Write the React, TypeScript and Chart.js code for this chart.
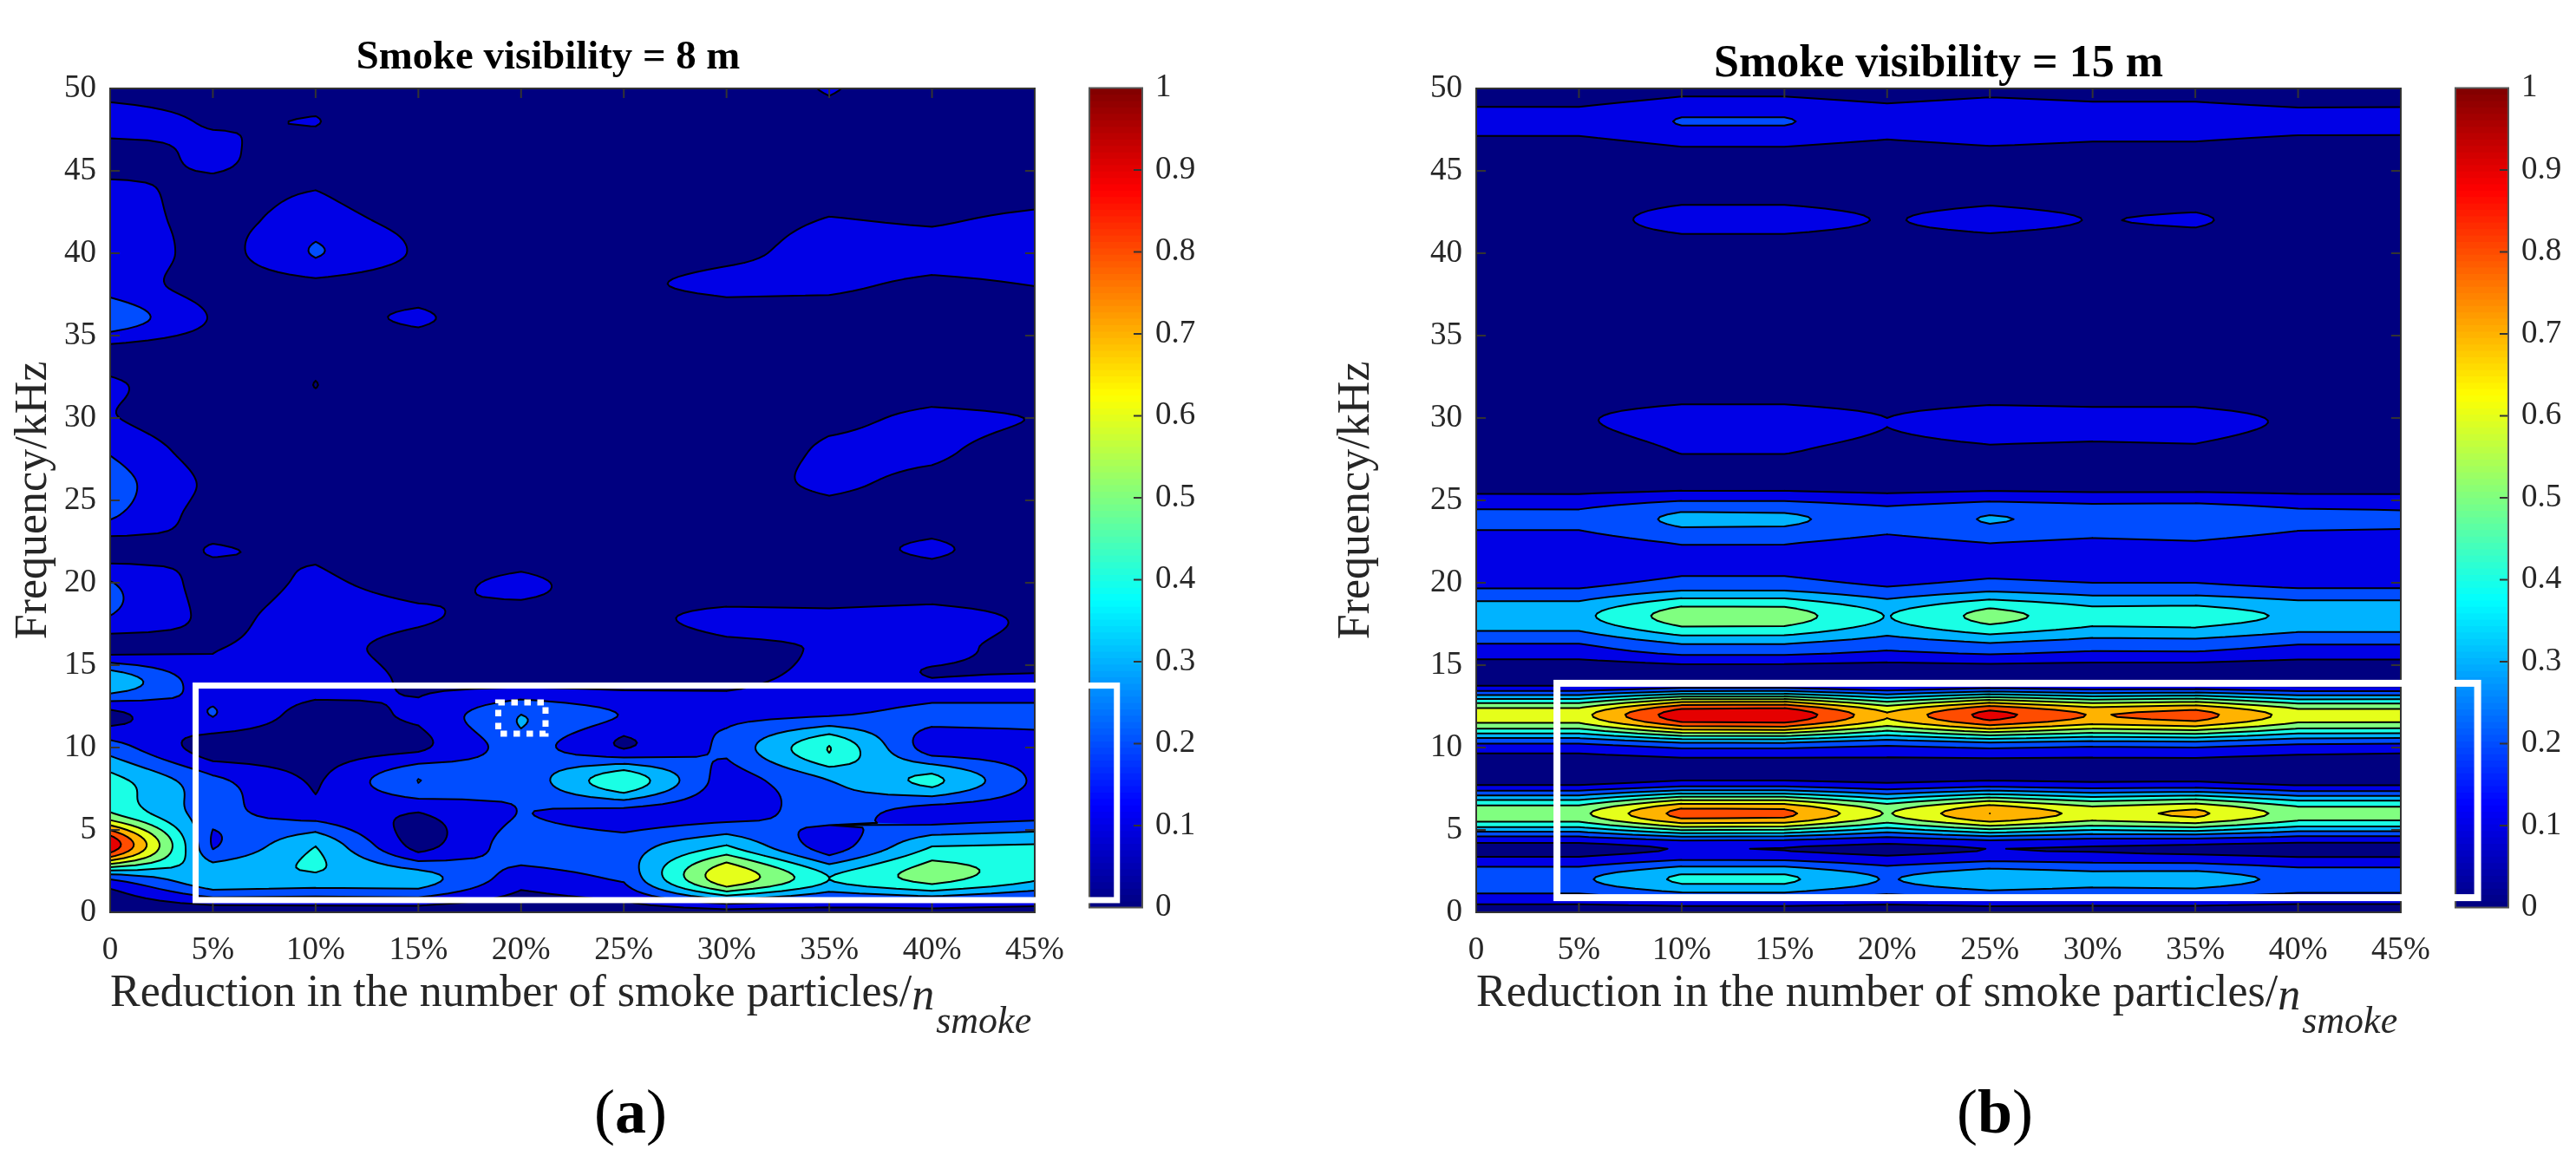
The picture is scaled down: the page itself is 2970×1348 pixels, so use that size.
import React, { useEffect, useRef } from "react";
import { Chart, registerables } from "chart.js";

Chart.register(...registerables);

const SERIF = "'Liberation Serif', 'Times New Roman', serif";
const INK = "#262626";

const reductionPercent = [0, 5, 10, 15, 20, 25, 30, 35, 40, 45];
const reductionTickLabels = ["0", "5%", "10%", "15%", "20%", "25%", "30%", "35%", "40%", "45%"];
const frequencyKHz = [0, 2, 4, 6, 8, 10, 12, 14, 16, 18, 20, 22, 24, 26, 28, 30, 32, 34, 36, 38, 40, 42, 44, 46, 48, 50];
const contourLevels = [0, 0.1, 0.2, 0.3, 0.4, 0.5, 0.6, 0.7, 0.8, 0.9];
const colorbarTickValues = [0, 0.1, 0.2, 0.3, 0.4, 0.5, 0.6, 0.7, 0.8, 0.9, 1];

// Rows follow frequencyKHz, columns follow reductionPercent.
const visibility8m = [
  [0.02, 0.04, 0.05, 0.05, 0.03, 0.05, 0.06, 0.06, 0.06, 0.05],
  [0.2, 0.38, 0.37, 0.35, 0.14, 0.21, 0.69, 0.4, 0.54, 0.41],
  [0.98, 0.19, 0.4, 0.06, 0.26, 0.25, 0.41, 0.14, 0.4, 0.41],
  [0.51, 0.23, 0.15, 0.095, 0.205, 0.16, 0.15, 0.25, 0.15, 0.16],
  [0.44, 0.222, 0.084, 0.302, 0.225, 0.49, 0.14, 0.3, 0.43, 0.18],
  [0.25, 0.04, 0.05, 0.08, 0.256, 0.092, 0.22, 0.505, 0.14, 0.15],
  [0.075, 0.205, 0.05, 0.116, 0.3, 0.194, 0.17, 0.19, 0.235, 0.23],
  [0.386, 0.12, 0.16, 0.08, 0.07, 0.07, 0.08, 0.13, 0.105, 0.115],
  [0.06, 0.097, 0.13, 0.07, 0.05, 0.06, 0.085, 0.105, 0.115, 0.082],
  [0.2, 0.073, 0.135, 0.11, 0.07, 0.08, 0.118, 0.115, 0.13, 0.086],
  [0.205, 0.057, 0.115, 0.069, 0.12, 0.05, 0.03, 0.03, 0.04, 0.03],
  [0.05, 0.105, 0.085, 0.04, 0.04, 0.03, 0.03, 0.067, 0.115, 0.047],
  [0.21, 0.05, 0.04, 0.03, 0.03, 0.03, 0.03, 0.06, 0.05, 0.04],
  [0.245, 0.073, 0.03, 0.03, 0.02, 0.02, 0.055, 0.12, 0.07, 0.03],
  [0.19, 0.04, 0.02, 0.02, 0.02, 0.02, 0.02, 0.12, 0.12, 0.045],
  [0.108, 0.02, 0.02, 0.02, 0.02, 0.02, 0.02, 0.07, 0.125, 0.097],
  [0.117, 0.02, -0.0005, 0.02, 0.02, 0.02, 0.02, 0.03, 0.04, 0.03],
  [0.06, 0.03, 0.02, 0.02, 0.02, 0.02, 0.02, 0.03, 0.03, 0.03],
  [0.27, 0.09, 0.063, 0.115, 0.027, 0.02, 0.04, 0.05, 0.04, 0.04],
  [0.16, 0.05, 0.07, 0.05, 0.03, 0.084, 0.12, 0.115, 0.08, 0.1],
  [0.19, 0.048, 0.21, 0.086, 0.02, 0.05, 0.08, 0.13, 0.13, 0.13],
  [0.144, 0.065, 0.14, 0.067, 0.02, 0.03, 0.06, 0.105, 0.09, 0.12],
  [0.12, 0.075, 0.095, 0.03, 0.02, 0.02, 0.03, 0.05, 0.04, 0.05],
  [0.04, 0.13, 0.02, 0.01, 0.01, 0.01, 0.01, 0.02, 0.02, 0.02],
  [0.16, 0.086, 0.105, 0.01, 0.01, 0.01, 0.02, 0.05, 0.02, 0.02],
  [0.05, 0.04, 0.02, 0.01, 0.01, 0.01, 0.025, 0.11, 0.025, 0.02],
];

const visibility15m = [
  [0.05, 0.05, 0.04, 0.04, 0.05, 0.05, 0.05, 0.05, 0.05, 0.05],
  [0.28, 0.28, 0.42, 0.42, 0.29, 0.38, 0.34, 0.35, 0.27, 0.27],
  [0.07, 0.07, 0.114, 0.105, 0.08, 0.11, 0.1, 0.085, 0.07, 0.07],
  [0.57, 0.57, 0.84, 0.83, 0.59, 0.8, 0.657, 0.724, 0.55, 0.55],
  [0.05, 0.05, 0.1, 0.1, 0.08, 0.1, 0.085, 0.09, 0.05, 0.05],
  [0.15, 0.15, 0.21, 0.21, 0.18, 0.21, 0.19, 0.2, 0.16, 0.15],
  [0.66, 0.66, 0.97, 0.99, 0.71, 0.94, 0.79, 0.845, 0.65, 0.65],
  [0.05, 0.05, 0.07, 0.07, 0.05, 0.07, 0.06, 0.06, 0.045, 0.045],
  [0.17, 0.17, 0.26, 0.26, 0.21, 0.25, 0.215, 0.22, 0.175, 0.175],
  [0.37, 0.37, 0.555, 0.55, 0.395, 0.536, 0.44, 0.45, 0.38, 0.38],
  [0.17, 0.17, 0.23, 0.23, 0.18, 0.22, 0.2, 0.2, 0.17, 0.17],
  [0.13, 0.13, 0.185, 0.185, 0.14, 0.18, 0.155, 0.17, 0.13, 0.13],
  [0.225, 0.225, 0.32, 0.315, 0.25, 0.305, 0.275, 0.285, 0.23, 0.22],
  [0.05, 0.05, 0.06, 0.06, 0.05, 0.06, 0.055, 0.055, 0.05, 0.05],
  [0.04, 0.05, 0.105, 0.105, 0.075, 0.09, 0.085, 0.09, 0.06, 0.04],
  [0.07, 0.09, 0.14, 0.14, 0.1, 0.135, 0.125, 0.125, 0.088, 0.07],
  [0.02, 0.03, 0.03, 0.03, 0.03, 0.03, 0.03, 0.03, 0.02, 0.02],
  [0.01, 0.01, 0.02, 0.02, 0.01, 0.02, 0.01, 0.01, 0.01, 0.01],
  [0.01, 0.01, 0.02, 0.02, 0.01, 0.01, 0.01, 0.01, 0.01, 0.01],
  [0.01, 0.01, 0.02, 0.02, 0.01, 0.01, 0.01, 0.01, 0.01, 0.01],
  [0.02, 0.02, 0.02, 0.02, 0.02, 0.02, 0.02, 0.02, 0.02, 0.02],
  [0.05, 0.055, 0.14, 0.14, 0.092, 0.135, 0.096, 0.11, 0.055, 0.05],
  [0.03, 0.03, 0.04, 0.04, 0.03, 0.04, 0.03, 0.03, 0.03, 0.03],
  [0.02, 0.02, 0.07, 0.07, 0.04, 0.07, 0.055, 0.055, 0.02, 0.02],
  [0.145, 0.145, 0.205, 0.205, 0.16, 0.19, 0.16, 0.16, 0.14, 0.14],
  [0.02, 0.02, 0.07, 0.07, 0.04, 0.07, 0.055, 0.055, 0.02, 0.025],
];

const clamp01 = (v: number) => Math.max(0, Math.min(1, v));
function jet(t: number) {
  const r = clamp01(1.5 - Math.abs(4 * t - 3));
  const g = clamp01(1.5 - Math.abs(4 * t - 2));
  const b = clamp01(1.5 - Math.abs(4 * t - 1));
  return `rgb(${Math.round(r * 255)},${Math.round(g * 255)},${Math.round(b * 255)})`;
}

// Rendering helper: smooth along frequency, linear along reduction.
const ROW_STEPS = 14;
function smoothColumns(grid: number[][]) {
  const n = grid.length;
  const out: number[][] = [];
  const at = (i: number, c: number) => grid[Math.max(0, Math.min(n - 1, i))][c];
  for (let i = 0; i < n - 1; i++) {
    for (let s = 0; s < (i === n - 2 ? ROW_STEPS + 1 : ROW_STEPS); s++) {
      const t = s / ROW_STEPS;
      const row: number[] = [];
      for (let c = 0; c < grid[0].length; c++) {
        const p0 = at(i, c);
        const p1 = at(i + 1, c);
        const m0 = (at(i + 1, c) - at(i - 1, c)) / 2;
        const m1 = (at(i + 2, c) - at(i, c)) / 2;
        const t2 = t * t;
        const t3 = t2 * t;
        row.push((2 * t3 - 3 * t2 + 1) * p0 + (t3 - 2 * t2 + t) * m0 + (-2 * t3 + 3 * t2) * p1 + (t3 - t2) * m1);
      }
      out.push(row);
    }
  }
  return out;
}

function contourPlugin(grid: number[][]) {
  const fine = smoothColumns(grid);
  return {
    id: "contourFill",
    beforeDatasetsDraw(chart: any) {
      const { ctx, chartArea, scales } = chart;
      const px = reductionPercent.map((v) => scales.x.getPixelForValue(v));
      const dy = (frequencyKHz[1] - frequencyKHz[0]) / ROW_STEPS;
      const py = fine.map((_, i) => scales.y.getPixelForValue(i * dy));
      ctx.save();
      ctx.beginPath();
      ctx.rect(chartArea.left, chartArea.top, chartArea.width, chartArea.height);
      ctx.clip();
      contourLevels.forEach((level, k) => {
        ctx.beginPath();
        if (k === 0) {
          ctx.rect(chartArea.left, chartArea.top, chartArea.width, chartArea.height);
        } else {
          for (let r = 0; r < fine.length - 1; r++) {
            for (let c = 0; c < px.length - 1; c++) {
              const poly = [
                [px[c], py[r], fine[r][c]],
                [px[c + 1], py[r], fine[r][c + 1]],
                [px[c + 1], py[r + 1], fine[r + 1][c + 1]],
                [px[c], py[r + 1], fine[r + 1][c]],
              ];
              if (poly.every((p) => p[2] < level)) continue;
              let first = true;
              for (let i = 0; i < 4; i++) {
                const a = poly[i];
                const b = poly[(i + 1) % 4];
                if (a[2] >= level) {
                  if (first) ctx.moveTo(a[0], a[1]);
                  else ctx.lineTo(a[0], a[1]);
                  first = false;
                }
                if (a[2] >= level !== b[2] >= level) {
                  const t = (level - a[2]) / (b[2] - a[2]);
                  const x = a[0] + t * (b[0] - a[0]);
                  const y = a[1] + t * (b[1] - a[1]);
                  if (first) ctx.moveTo(x, y);
                  else ctx.lineTo(x, y);
                  first = false;
                }
              }
              ctx.closePath();
            }
          }
        }
        ctx.fillStyle = jet(level);
        ctx.fill();
      });
      ctx.beginPath();
      contourLevels.forEach((level) => {
        for (let r = 0; r < fine.length - 1; r++) {
          for (let c = 0; c < px.length - 1; c++) {
            const corners = [
              [px[c], py[r], fine[r][c]],
              [px[c + 1], py[r], fine[r][c + 1]],
              [px[c + 1], py[r + 1], fine[r + 1][c + 1]],
              [px[c], py[r + 1], fine[r + 1][c]],
            ];
            const hits: number[][] = [];
            for (let i = 0; i < 4; i++) {
              const a = corners[i];
              const b = corners[(i + 1) % 4];
              if (a[2] >= level !== b[2] >= level) {
                const t = (level - a[2]) / (b[2] - a[2]);
                hits.push([a[0] + t * (b[0] - a[0]), a[1] + t * (b[1] - a[1])]);
              }
            }
            for (let h = 0; h + 1 < hits.length; h += 2) {
              ctx.moveTo(hits[h][0], hits[h][1]);
              ctx.lineTo(hits[h + 1][0], hits[h + 1][1]);
            }
          }
        }
      });
      ctx.strokeStyle = "#000";
      ctx.lineWidth = 2;
      ctx.lineCap = "round";
      ctx.stroke();
      ctx.restore();
    },
  };
}

const framePlugin = {
  id: "matlabFrame",
  afterDraw(chart: any) {
    const { ctx, chartArea: a, scales } = chart;
    ctx.save();
    ctx.strokeStyle = "#333";
    ctx.lineWidth = 2;
    ctx.beginPath();
    const len = 11;
    scales.x.ticks.forEach((t: any) => {
      const x = scales.x.getPixelForValue(t.value);
      if (t.value === scales.x.min || t.value === scales.x.max) return;
      ctx.moveTo(x, a.bottom);
      ctx.lineTo(x, a.bottom - len);
      ctx.moveTo(x, a.top);
      ctx.lineTo(x, a.top + len);
    });
    scales.y.ticks.forEach((t: any) => {
      const y = scales.y.getPixelForValue(t.value);
      if (t.value === scales.y.min || t.value === scales.y.max) return;
      ctx.moveTo(a.left, y);
      ctx.lineTo(a.left + len, y);
      ctx.moveTo(a.right, y);
      ctx.lineTo(a.right - len, y);
    });
    ctx.stroke();
    ctx.strokeRect(a.left, a.top, a.width, a.height);
    ctx.restore();
  },
};

function calloutPlugin(
  box: { x0: number; x1: number; y0: number; y1: number; width: number },
  dashed?: { x0: number; x1: number; y0: number; y1: number }
) {
  return {
    id: "callouts",
    afterDraw(chart: any) {
      const { ctx, scales } = chart;
      const rect = (b: any) => {
        const x = scales.x.getPixelForValue(b.x0);
        const y = scales.y.getPixelForValue(b.y1);
        ctx.strokeRect(x, y, scales.x.getPixelForValue(b.x1) - x, scales.y.getPixelForValue(b.y0) - y);
      };
      ctx.save();
      ctx.strokeStyle = "#fff";
      ctx.lineJoin = "miter";
      ctx.lineWidth = box.width;
      rect(box);
      if (dashed) {
        ctx.lineWidth = 7;
        ctx.setLineDash([7.5, 7.5]);
        rect(dashed);
      }
      ctx.restore();
    },
  };
}

const subscriptPlugin = {
  id: "xTitleSubscript",
  afterDraw(chart: any) {
    const { ctx, chartArea: a, scales } = chart;
    const t = scales.x.options.title;
    ctx.save();
    ctx.font = `52px ${SERIF}`;
    const start = a.left + ctx.measureText(t.text).width;
    ctx.fillStyle = INK;
    ctx.textBaseline = "alphabetic";
    ctx.textAlign = "left";
    ctx.font = `italic 52px ${SERIF}`;
    ctx.fillText("n", start, a.bottom + 112);
    const w = ctx.measureText("n").width;
    ctx.font = `italic 44px ${SERIF}`;
    ctx.fillText("smoke", start + w + 2, a.bottom + 139);
    ctx.restore();
  },
};

function mainChart(
  canvas: HTMLCanvasElement,
  opt: {
    grid: number[][];
    title: string;
    titleSize: number;
    titlePad: { top: number; bottom: number };
    titleFull: boolean;
    padLeft: number;
    padRight: number;
    yWidth: number;
    yTitlePad: number;
    callouts: any;
  }
) {
  const points = opt.grid.flatMap((row, r) => row.map((v, c) => ({ x: reductionPercent[c], y: frequencyKHz[r], v })));
  return new Chart(canvas, {
    type: "scatter",
    data: { datasets: [{ data: points, pointRadius: 0, showLine: false }] },
    options: {
      animation: false,
      responsive: false,
      devicePixelRatio: 1,
      layout: { autoPadding: false, padding: { left: opt.padLeft, right: opt.padRight, top: 0, bottom: 170 } },
      plugins: {
        legend: { display: false },
        tooltip: { enabled: false },
        title: {
          display: true,
          text: opt.title,
          color: "#000",
          fullSize: opt.titleFull,
          font: { family: SERIF, size: opt.titleSize, weight: "bold", lineHeight: 1 },
          padding: opt.titlePad,
        },
      },
      scales: {
        x: {
          type: "linear",
          min: 0,
          max: 45,
          afterFit: (s: any) => {
            s.height = 126;
          },
          grid: { display: false, drawTicks: false },
          border: { display: false },
          ticks: {
            stepSize: 5,
            autoSkip: false,
            maxRotation: 0,
            padding: 22,
            color: INK,
            font: { family: SERIF, size: 37 },
            callback: (v: any) => reductionTickLabels[reductionPercent.indexOf(v)],
          },
          title: {
            display: true,
            align: "start",
            text: "Reduction in the number of smoke particles/",
            color: INK,
            padding: 0,
            font: { family: SERIF, size: 52, lineHeight: 1.2 },
          },
        },
        y: {
          type: "linear",
          min: 0,
          max: 50,
          afterFit: (s: any) => {
            s.width = opt.yWidth;
          },
          grid: { display: false, drawTicks: false },
          border: { display: false },
          ticks: {
            stepSize: 5,
            autoSkip: false,
            padding: 16,
            color: INK,
            font: { family: SERIF, size: 37 },
          },
          title: {
            display: true,
            text: "Frequency/kHz",
            color: INK,
            padding: { top: opt.yTitlePad, bottom: 0 },
            font: { family: SERIF, size: 52, lineHeight: 1.2 },
          },
        },
      },
    } as any,
    plugins: [contourPlugin(opt.grid), framePlugin, subscriptPlugin, opt.callouts],
  } as any);
}

const COLORBAR_STEPS = 128;
function colorbarChart(canvas: HTMLCanvasElement, padLeft: number, scaleWidth: number) {
  const datasets = [];
  for (let k = COLORBAR_STEPS - 1; k >= 0; k--) {
    datasets.push({
      data: [[k / COLORBAR_STEPS, 1]],
      backgroundColor: jet((k + 0.5) / COLORBAR_STEPS),
      borderWidth: 0,
      barPercentage: 1,
      categoryPercentage: 1,
    });
  }
  return new Chart(canvas, {
    type: "bar",
    data: { labels: ["colour"], datasets },
    options: {
      animation: false,
      responsive: false,
      devicePixelRatio: 1,
      layout: { autoPadding: false, padding: { left: padLeft, right: 0, top: 101.5, bottom: 301.5 } },
      plugins: { legend: { display: false }, tooltip: { enabled: false }, title: { display: false } },
      scales: {
        x: { display: false, stacked: true },
        y: {
          position: "right",
          stacked: false,
          min: 0,
          max: 1,
          afterFit: (s: any) => {
            s.width = scaleWidth;
          },
          afterBuildTicks: (s: any) => {
            s.ticks = colorbarTickValues.map((value) => ({ value }));
          },
          grid: { display: false, drawTicks: false },
          border: { display: false },
          ticks: {
            autoSkip: false,
            padding: 15,
            color: INK,
            font: { family: SERIF, size: 37 },
            callback: (v: any) => String(Math.round(v * 10) / 10),
          },
        },
      },
    } as any,
    plugins: [
      {
        id: "colorbarFrame",
        afterDraw(chart: any) {
          const { ctx, chartArea: a, scales } = chart;
          ctx.save();
          ctx.strokeStyle = "#333";
          ctx.lineWidth = 2;
          ctx.beginPath();
          colorbarTickValues.slice(1, -1).forEach((v) => {
            const y = scales.y.getPixelForValue(v);
            ctx.moveTo(a.right, y);
            ctx.lineTo(a.right - 10, y);
          });
          ctx.stroke();
          ctx.strokeStyle = "#555";
          ctx.strokeRect(a.left, a.top, a.width, a.height);
          ctx.restore();
        },
      },
    ],
  } as any);
}

const canvasStyle = (left: number): React.CSSProperties => ({ position: "absolute", left, top: 0, display: "block" });
const panelLabel = (centre: number): React.CSSProperties => ({
  position: "absolute",
  left: centre - 100,
  width: 200,
  top: 1246,
  textAlign: "center",
  fontFamily: SERIF,
  fontSize: 72,
  lineHeight: "72px",
  color: "#000",
});

export default function App() {
  const a = useRef<HTMLCanvasElement>(null);
  const b = useRef<HTMLCanvasElement>(null);
  const ca = useRef<HTMLCanvasElement>(null);
  const cb = useRef<HTMLCanvasElement>(null);

  useEffect(() => {
    const charts = [
      colorbarChart(ca.current!, 50, 89),
      colorbarChart(cb.current!, 51, 78),
      mainChart(a.current!, {
        grid: visibility8m,
        title: "Smoke visibility = 8 m",
        titleSize: 46.8,
        titlePad: { top: 43.6, bottom: 11.6 },
        titleFull: true,
        padLeft: 71,
        padRight: 307,
        yWidth: 56,
        yTitlePad: -63,
        callouts: calloutPlugin(
          { x0: 4.16, x1: 49.0, y0: 0.74, y1: 13.76, width: 7 },
          { x0: 18.89, x1: 21.19, y0: 10.84, y1: 12.74 }
        ),
      }),
      mainChart(b.current!, {
        grid: visibility15m,
        title: "Smoke visibility = 15 m",
        titleSize: 52,
        titlePad: { top: 48.5, bottom: 1.5 },
        titleFull: false,
        padLeft: 33,
        padRight: 202,
        yWidth: 169,
        yTitlePad: 0,
        callouts: calloutPlugin({ x0: 3.93, x1: 48.74, y0: 0.89, y1: 13.9, width: 8 }),
      }),
    ];
    return () => charts.forEach((c) => c.destroy());
  }, []);

  return (
    <div style={{ position: "absolute", left: 0, top: 0, width: 2970, height: 1348, background: "#fff", overflow: "hidden" }}>
      <canvas ref={ca} width={200} height={1348} style={canvasStyle(1206)} />
      <canvas ref={cb} width={190} height={1348} style={canvasStyle(2780)} />
      <canvas ref={a} width={1500} height={1348} style={canvasStyle(0)} />
      <canvas ref={b} width={1470} height={1348} style={canvasStyle(1500)} />
      <div style={panelLabel(727)}>
        (<b>a</b>)
      </div>
      <div style={panelLabel(2300)}>
        (<b>b</b>)
      </div>
    </div>
  );
}
